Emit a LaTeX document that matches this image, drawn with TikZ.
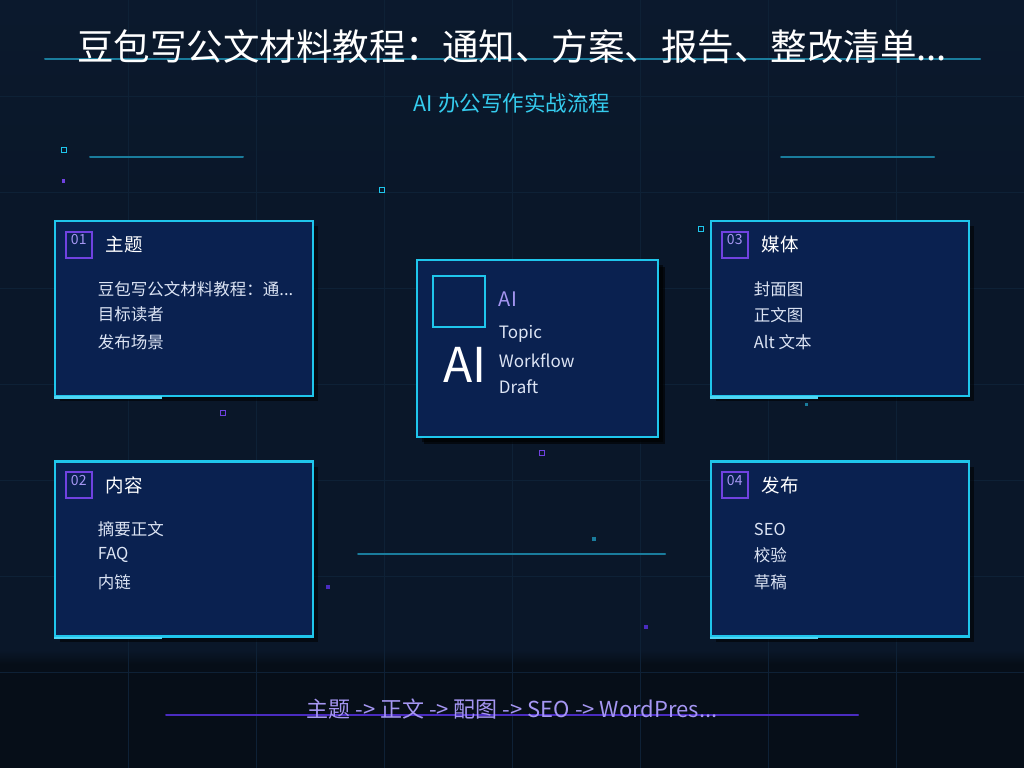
\documentclass[tikz,border=0pt]{standalone}
\usepackage{fontspec}
\setmainfont{Noto Sans CJK SC}
\usetikzlibrary{shadows}
\definecolor{bg}{HTML}{0A1729}
\definecolor{bgtop}{HTML}{0B192D}
\definecolor{bgbot}{HTML}{060E18}
\definecolor{gridc}{HTML}{0E2136}
\definecolor{cyanb}{HTML}{1FC6EC}
\definecolor{cyanl}{HTML}{4FD6F4}
\definecolor{cyand}{HTML}{1A7C9C}
\definecolor{cardfill}{HTML}{0A2150}
\definecolor{purp}{HTML}{7042E0}
\definecolor{purpd}{HTML}{4A2CC0}
\definecolor{lpurp}{HTML}{A596F2}
\definecolor{itemc}{HTML}{DCE4F4}
\def\mytdots{...}
\tikzset{
  card/.style={draw=cyanb, line width=2.5pt, fill=cardfill, inner sep=0pt,
    minimum width=258pt, minimum height=175pt,
    drop shadow={shadow xshift=5pt, shadow yshift=-5pt, opacity=0.55, fill=black}},
  numbox/.style={draw=purp, line width=2pt, minimum size=26pt, inner sep=0pt},
  numtxt/.style={text=lpurp, font=\fontsize{14}{15}\selectfont, inner sep=0pt},
  cardtitle/.style={text=white, font=\fontsize{18.5}{20}\selectfont, anchor=west, inner sep=0pt},
  item/.style={text=itemc, font=\fontsize{16.5}{18}\selectfont, anchor=west, inner sep=0pt},
  deco/.style={line width=2pt, line cap=round},
  dotc/.style={draw=cyanb, line width=1pt},
  dotp/.style={draw=purp, line width=1pt},
}
\begin{document}
\begin{tikzpicture}[x=1pt,y=-1pt]
\useasboundingbox (0,0) rectangle (1024,768);
% background
\fill[bg] (0,0) rectangle (1024,768);
\shade[top color=bgtop, bottom color=bg] (0,0) rectangle (1024,200);
\fill[bgbot] (0,662) rectangle (1024,768);
\shade[top color=bg, bottom color=bgbot] (0,650) rectangle (1024,664);
% grid
\foreach \gx in {128,256,384,512,640,768,896} \draw[gridc, line width=0.8pt] (\gx,0) -- (\gx,768);
\foreach \gy in {96,192,288,384,480,576,672} \draw[gridc, line width=0.8pt] (0,\gy) -- (1024,\gy);
% decorative lines
\draw[deco, draw=cyand] (45,59) -- (980,59);
\draw[deco, draw=cyand] (90,157) -- (243,157);
\draw[deco, draw=cyand] (781,157) -- (934,157);
\draw[deco, draw=cyand] (358,554) -- (665,554);
\draw[deco, draw=purpd] (166,715) -- (858,715);
% small squares
\draw[dotc] (61.5,147.5) rectangle (66.5,152.5);
\fill[purp] (61.5,178.5) rectangle (64.5,182.5);
\draw[dotc] (379.5,187.5) rectangle (384.5,192.5);
\draw[dotc] (698.5,226.5) rectangle (703.5,231.5);
\draw[dotp] (220.5,410.5) rectangle (225.5,415.5);
\draw[dotp] (539.5,450) rectangle (544.5,455);
\fill[cyand] (804.5,402.5) rectangle (807.5,405.5);
\fill[cyand] (592,537) rectangle (596,541);
\fill[purpd] (326,585) rectangle (330,589);
\fill[purpd] (644,625) rectangle (648,629);
\fill[gridc!80!cyand] (911,577) rectangle (914,580);
% title
\node[text=white, font=\fontsize{36.5}{40}\selectfont, inner sep=0pt] (title) at (512,47) {豆包写公文材料教程：通知、方案、报告、整改清单...};
\node[text=cyanb!90!white, font=\fontsize{21.5}{24}\selectfont, inner sep=0pt] (subtitle) at (512,103) {AI 办公写作实战流程};
% cards
\node[card] (b1) at (184,308.5) {};
\node[card] (b2) at (184,549) {};
\node[card] (b3) at (840,308.5) {};
\node[card] (b4) at (840,549) {};
\foreach \b in {b1,b2,b3,b4} {
  \draw[cyanl, line width=2.5pt] (\b.south west) -- ++(108,0);
}
% card contents
\foreach \b/\n/\t/\ia/\ib/\ic in {b1/01/主题/豆包写公文材料教程：通\mytdots/目标读者/发布场景,
                                 b2/02/内容/摘要正文/FAQ/内链,
                                 b3/03/媒体/封面图/正文图/Alt 文本,
                                 b4/04/发布/SEO/校验/草稿} {
  \node[numbox, anchor=north west] (\b n) at ([shift={(11,11)}]\b.north west) {};
  \node[numtxt, anchor=north] (\b nt) at ([shift={(0,3.5)}]\b n.north) {\n};
  \node[cardtitle] (\b t) at ([shift={(52,25)}]\b.north west) {\t};
  \node[item] (\b i1) at ([shift={(44,69)}]\b.north west) {\ia};
  \node[item] (\b i2) at ([shift={(44,95)}]\b.north west) {\ib};
  \node[item] (\b i3) at ([shift={(44,122)}]\b.north west) {\ic};
}
% center card
\node[card, minimum width=241pt, minimum height=177pt,
  drop shadow={shadow xshift=7pt, shadow yshift=-7pt, opacity=0.6, fill=black}] (c) at (537.5,348.5) {};
\node[draw=cyanb, line width=2pt, minimum width=52pt, minimum height=51pt, inner sep=0pt, anchor=north west] (csq) at ([shift={(16,16)}]c.north west) {};
\node[text=lpurp, font=\fontsize{20}{22}\selectfont, anchor=west, inner sep=0pt] (cai) at ([shift={(83,40)}]c.north west) {AI};
\node[item, font=\fontsize{17}{18}\selectfont] (ct1) at ([shift={(83,75)}]c.north west) {Topic};
\node[item, font=\fontsize{17}{18}\selectfont] (ct2) at ([shift={(83,102)}]c.north west) {Workflow};
\node[item, font=\fontsize{17}{18}\selectfont] (ct3) at ([shift={(83,128)}]c.north west) {Draft};
\node[text=white, font=\fontsize{48}{50}\selectfont, inner sep=0pt] (cbig) at ([shift={(49,106)}]c.north west) {AI};
% bottom flow text
\node[text=lpurp, font=\fontsize{22}{24}\selectfont, inner sep=0pt] (flow) at (512,709) {主题 -> 正文 -> 配图 -> SEO -> WordPres...};
\end{tikzpicture}
\end{document}
